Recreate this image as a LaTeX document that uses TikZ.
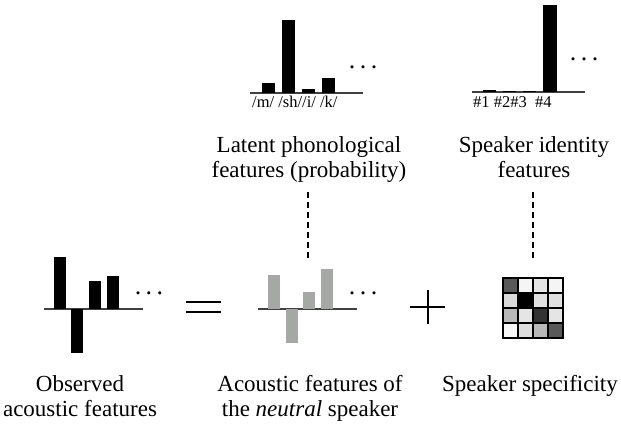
\documentclass[tikz,border=0pt]{standalone}
\usepackage{fontspec}
\setmainfont{Liberation Serif}
\definecolor{barGrey}{RGB}{166,168,166}
\definecolor{axisGrey}{RGB}{64,64,64}
\newcommand{\moredotstext}{.\hspace{4.5pt}.\hspace{4.5pt}.}
\tikzset{
  blackbar/.style={fill=black},
  greybar/.style={fill=barGrey},
  axisline/.style={draw=axisGrey, line width=1.4pt},
  caption/.style={align=center, font=\fontsize{23}{25.5}\selectfont, inner sep=0pt},
  ticktext/.style={font=\fontsize{16.5}{18}\selectfont, inner sep=0pt},
  moredots/.style={font=\fontsize{26}{28}\selectfont, inner sep=0pt, anchor=base},
  link/.style={line width=2.8pt, dash pattern=on 6pt off 4pt},
  sign/.style={line width=2pt},
  cell/.style={draw=black, line width=1.2pt},
}
\begin{document}
\begin{tikzpicture}[x=1pt,y=-1pt]
  \useasboundingbox (0,0) rectangle (621,428);
  % latent phonological features
  \draw[axisline] (250,93) -- (363,93);
  \fill[blackbar] (262,93) rectangle (275,83);
  \fill[blackbar] (282,93) rectangle (295,20);
  \fill[blackbar] (302,93) rectangle (315,89);
  \fill[blackbar] (322,93) rectangle (335,78);
  \node[moredots] (phondots) at (363,68.5) {\moredotstext};
  \node[ticktext, anchor=base west] (phonticks) at (252,107) {/m/ /sh//i/ /k/};
  % speaker identity features
  \draw[axisline] (472,92) -- (585,92);
  \fill[blackbar] (483,92) rectangle (496,90);
  \fill[blackbar] (503,92) rectangle (516,91);
  \fill[blackbar] (523,92) rectangle (536,91);
  \fill[blackbar] (543,92) rectangle (557,5);
  \node[moredots] (spkdots) at (584,60.5) {\moredotstext};
  \node[ticktext, anchor=base west] (spkticks) at (473,107) {\#1 \#2\#3\ \ \#4};
  % upper captions (base = last line)
  \node[caption, anchor=base] (phonlabel) at (309,177.5) {Latent phonological\\features (probability)};
  \node[caption, anchor=base] (spklabel) at (534,177.5) {Speaker identity\\features};
  % observed acoustic features
  \draw[axisline] (44,309) -- (143,309);
  \fill[blackbar] (54,309) rectangle (66,257);
  \fill[blackbar] (71,309) rectangle (83,353);
  \fill[blackbar] (89,309) rectangle (101,281);
  \fill[blackbar] (107,309) rectangle (119,276);
  \node[moredots] (obsdots) at (149,294.5) {\moredotstext};
  % equals
  \draw[sign] (186,302) -- (221,302);
  \draw[sign] (186,312) -- (221,312);
  % neutral speaker
  \draw[axisline] (258,309) -- (357,309);
  \fill[greybar] (268,309) rectangle (280,275);
  \fill[greybar] (286,309) rectangle (298,343);
  \fill[greybar] (303,309) rectangle (315,292);
  \fill[greybar] (321,309) rectangle (333,269);
  \node[moredots] (neudots) at (363,294.5) {\moredotstext};
  % plus
  \draw[sign] (410,307) -- (445,307);
  \draw[sign] (428,290) -- (428,324);
  % speaker specificity matrix
  \foreach \shade [count=\i from 0] in {65,4,10,4, 14,100,12,12, 28,10,80,10, 3,13,28,65} {
    \pgfmathtruncatemacro\col{mod(\i,4)}
    \pgfmathtruncatemacro\row{\i/4}
    \filldraw[cell, fill=black!\shade] ({503+15*\col},{278+15*\row}) rectangle +(15,15);
  }
  % dashed links
  \coordinate (phonfoot) at (308,192);
  \coordinate (neutop) at (308,260);
  \coordinate (spkfoot) at (533,192);
  \coordinate (mattop) at (533,260);
  \draw[link] (phonfoot) -- (neutop);
  \draw[link] (spkfoot) -- (mattop);
  % lower captions
  \node[caption, anchor=base] (obslabel) at (80,416.5) {Observed\\acoustic features};
  \node[caption, anchor=base] (neulabel) at (310,416.5) {Acoustic features of\\the \textit{neutral} speaker};
  \node[caption, anchor=base] (speclabel) at (530,391) {Speaker specificity};
\end{tikzpicture}
\end{document}
